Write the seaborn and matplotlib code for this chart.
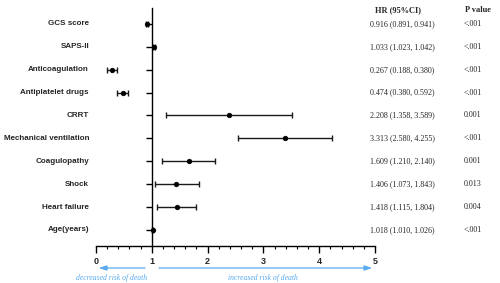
import matplotlib
matplotlib.use("Agg")
import matplotlib.pyplot as plt
import matplotlib.transforms as mtransforms
from matplotlib.ticker import MultipleLocator
import seaborn as sns
import pandas as pd
import numpy as np

labels = ["GCS score", "SAPS-II", "Anticoagulation", "Antiplatelet drugs", "CRRT",
          "Mechanical ventilation", "Coagulopathy", "Shock", "Heart failure", "Age(years)"]
hr = [0.91, 1.04, 0.29, 0.48, 2.38, 3.39, 1.66, 1.44, 1.45, 1.02]
lo = [0.89, 1.03, 0.19, 0.37, 1.25, 2.54, 1.19, 1.06, 1.10, 1.01]
hi = [0.94, 1.05, 0.38, 0.58, 3.51, 4.23, 2.13, 1.84, 1.80, 1.03]
hr_text = ["0.916 (0.891, 0.941)", "1.033 (1.023, 1.042)", "0.267 (0.188, 0.380)",
           "0.474 (0.380, 0.592)", "2.208 (1.358, 3.589)", "3.313 (2.580, 4.255)",
           "1.609 (1.210, 2.140)", "1.406 (1.073, 1.843)", "1.418 (1.115, 1.804)",
           "1.018 (1.010, 1.026)"]
p_text = ["<.001", "<.001", "<.001", "<.001", "0.001", "<.001", "0.001", "0.013", "0.004", "<.001"]
xticks = [0, 1, 2, 3, 4, 5]

sns.set_style("white")
df = pd.DataFrame({"label": labels, "hr": hr, "lo": lo, "hi": hi, "pos": np.arange(len(labels))})

fig = plt.figure(figsize=(5, 2.83), dpi=100)
ax = fig.add_axes([0.192, 0.131, 0.558, 0.841])

ax.errorbar(df["hr"], df["pos"], xerr=[df["hr"] - df["lo"], df["hi"] - df["hr"]],
            fmt="none", ecolor="#1a1a1a", elinewidth=1.0, capsize=2.5, capthick=1.0)
sns.scatterplot(data=df, x="hr", y="pos", ax=ax, color="black", s=11, edgecolor="black",
                linewidth=0.5, zorder=3, legend=False)

ax.set_xlim(0, 5)
ax.set_ylim(len(labels) - 0.3, -0.7)
ax.set_xlabel("")
ax.set_ylabel("")
for s in ["top", "right"]:
    ax.spines[s].set_visible(False)
ax.spines["left"].set_position(("data", 1))
ax.spines["left"].set_linewidth(1.0)
ax.spines["bottom"].set_linewidth(1.0)
ax.spines["left"].set_color("black")
ax.spines["bottom"].set_color("black")
ax.set_yticks(df["pos"])
ax.set_yticklabels([])
ax.tick_params(axis="y", direction="out", length=4, width=1, left=True, color="black")
ax.set_xticks(xticks)
ax.set_xticklabels([str(t) for t in xticks], fontsize=6.5, fontweight="bold", family="Liberation Sans")
ax.xaxis.set_minor_locator(MultipleLocator(0.2))
ax.tick_params(axis="x", which="major", direction="out", length=5, width=1, bottom=True, pad=3, color="black")
ax.tick_params(axis="x", which="minor", direction="out", length=2.5, width=0.8, bottom=True, color="black")

# row labels
tr = mtransforms.blended_transform_factory(fig.transFigure, ax.transData)
for i, lab in enumerate(labels):
    fig.text(89 / 500, i, lab, transform=tr, ha="right", va="center", fontsize=5.8,
             fontweight="bold", family="Liberation Sans")
    fig.text(370 / 500, i, hr_text[i], transform=tr, ha="left", va="center", fontsize=5.8,
             family="Liberation Serif")
    fig.text(464 / 500, i, p_text[i], transform=tr, ha="left", va="center", fontsize=5.8,
             family="Liberation Serif")

fig.text(398 / 500, 1 - 10 / 283, "HR (95%CI)", ha="center", va="center", fontsize=6,
         fontweight="bold", family="Liberation Serif")
fig.text(465 / 500, 1 - 10 / 283, "P value", ha="left", va="center", fontsize=6,
         fontweight="bold", family="Liberation Serif")

# risk arrows
blue = "#5aaaf0"
tr2 = mtransforms.blended_transform_factory(ax.transData, fig.transFigure)
yarr = 1 - 268 / 283
ax.annotate("", xy=(0, yarr), xytext=(0.93, yarr), xycoords=tr2, textcoords=tr2,
            arrowprops=dict(arrowstyle="-|>,head_length=0.45,head_width=0.15", color=blue, lw=0.9),
            annotation_clip=False)
ax.annotate("", xy=(5, yarr), xytext=(1.08, yarr), xycoords=tr2, textcoords=tr2,
            arrowprops=dict(arrowstyle="-|>,head_length=0.45,head_width=0.15", color=blue, lw=0.9),
            annotation_clip=False)
ax.text(0.27, 1 - 278 / 283, "decreased risk of death", transform=tr2, ha="center", va="center",
        fontsize=5.5, style="italic", color=blue, family="Liberation Serif")
ax.text(3.0, 1 - 278 / 283, "increased risk of death", transform=tr2, ha="center", va="center",
        fontsize=5.5, style="italic", color=blue, family="Liberation Serif")

fig.savefig("out.png", dpi=100)
